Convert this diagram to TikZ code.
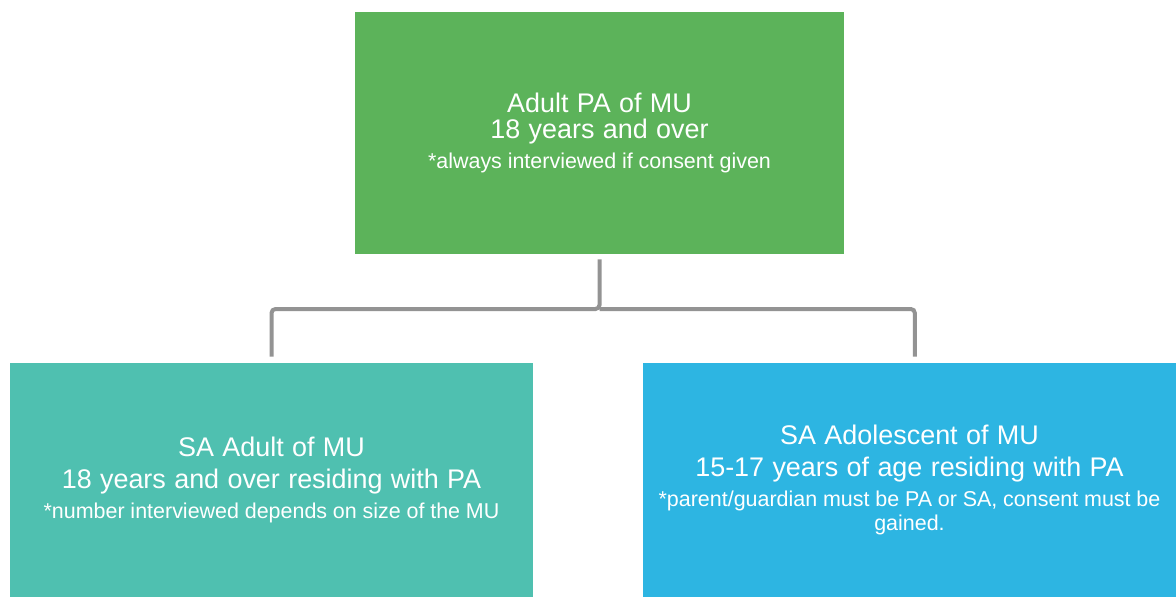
\documentclass[tikz,border=0pt]{standalone}
\usepackage{fontspec}
\setmainfont{Liberation Sans}

\definecolor{adultgreen}{HTML}{5CB35A}
\definecolor{sateal}{HTML}{4FC0B0}
\definecolor{sablue}{HTML}{2DB5E2}
\definecolor{linkgray}{HTML}{939393}

\newcommand\mainsize{\fontsize{20.2}{19.5}\selectfont\spaceskip=0.31em\relax}
\newcommand\notesize{\fontsize{16.1}{18}\selectfont\spaceskip=0.27em\relax}

\begin{document}
\begin{tikzpicture}[
                x=0.75pt, y=-0.75pt,
                boxnode/.style={
                    text=white, align=center, inner sep=0pt, text width=#1
                },
                link/.style={
                    draw=linkgray, line width=3pt, rounded corners=3pt
                }
            ]
            \useasboundingbox (0,0) rectangle (1176,597);

            \node[boxnode=360pt, fill=adultgreen, minimum width=366.75pt, minimum height=181.5pt] (PA) at (599.5, 133)
                {{\mainsize Adult PA of MU\\18 years and over\par}\vspace{4.5pt}{\notesize *always interviewed if consent given\par}};
            \node[boxnode=388pt, fill=sateal, minimum width=392.25pt, minimum height=175.5pt] (SAadult) at (271.5, 480)
                {\vspace*{5pt}{\mainsize SA Adult of MU\\18 years and over residing with PA\par}\vspace{4.5pt}{\notesize *number interviewed depends on size of the MU\par}};
            \node[boxnode=396pt, fill=sablue, minimum width=399.75pt, minimum height=175.5pt] (SAteen) at (909.5, 480)
                {\vspace*{4pt}{\mainsize SA Adolescent of MU\\15-17 years of age residing with PA\par}\vspace{4.5pt}{\notesize *parent/guardian must be PA or SA, consent must be\\gained.\par}};

            % links
            \coordinate (bus) at (599.5, 309);
            \draw[link, shorten <=3.75pt, shorten >=4.5pt] (PA.south) -- (bus) -| (SAadult.north);
            \draw[link, shorten >=4.5pt] (bus) -| ([xshift=4pt]SAteen.north);
\end{tikzpicture}
\end{document}
